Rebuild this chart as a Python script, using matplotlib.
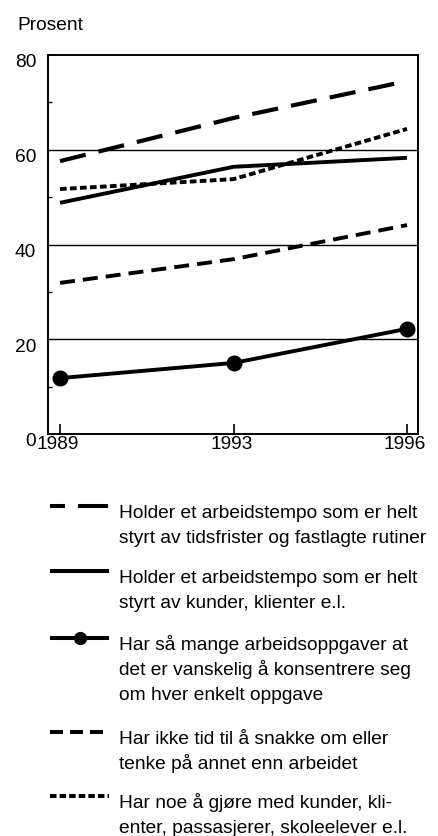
import matplotlib
matplotlib.use("Agg")
import matplotlib.pyplot as plt
from matplotlib import font_manager
from matplotlib.transforms import ScaledTranslation

# ---------------- data ----------------
years = ["1989", "1993", "1996"]
tidsfrister = [57.6, 66.7, 74.5]      # long dash
kunder = [48.8, 56.4, 58.3]           # solid
mange_oppgaver = [11.8, 15.0, 22.2]   # solid with dots
ikke_tid = [31.9, 36.9, 44.1]         # medium dash
kontakt = [51.7, 53.8, 64.4]          # short dash
y_ticks = [0, 20, 40, 60, 80]
y_minor = [10, 30, 50, 70]
labels = [
    "Holder et arbeidstempo som er helt\nstyrt av tidsfrister og fastlagte rutiner",
    "Holder et arbeidstempo som er helt\nstyrt av kunder, klienter e.l.",
    "Har så mange arbeidsoppgaver at\ndet er vanskelig å konsentrere seg\nom hver enkelt oppgave",
    "Har ikke tid til å snakke om eller\ntenke på annet enn arbeidet",
    "Har noe å gjøre med kunder, kli-\nenter, passasjerer, skoleelever e.l.",
]

# ---------------- style ----------------
avail = {f.name for f in font_manager.fontManager.ttflist}
fams = [f for f in ["Liberation Sans Narrow", "Liberation Sans", "DejaVu Sans"] if f in avail]
plt.rcParams["font.family"] = fams
plt.rcParams["lines.scale_dashes"] = False
FS = 16.5 if fams[0] == "Liberation Sans Narrow" else 13.8

series = [tidsfrister, kunder, mange_oppgaver, ikke_tid, kontakt]
styles = [
    dict(ls=(0, (19, 9.5)), lw=3.0),
    dict(ls="-", lw=2.8),
    dict(ls="-", lw=2.8, marker="o", ms=10.5),
    dict(ls=(0, (10.8, 5.8)), lw=2.8),
    dict(ls=(0, (4.8, 2.4)), lw=2.8),
]
legend_styles = [
    dict(ls=(0, (10.8, 9.4, 21.6, 9.4)), lw=2.9),
    dict(ls="-", lw=2.9),
    dict(ls="-", lw=2.9, marker="o", ms=8.5, markevery=[1]),
    dict(ls=(0, (9.4, 5.0)), lw=2.9),
    dict(ls=(0, (4.7, 2.2)), lw=2.9),
]

W, H = 439, 837
fig = plt.figure(figsize=(W / 100, H / 100), dpi=100)
fig.patch.set_facecolor("white")

# main axes (pixel geometry)
L, R, T, B = 48, 418, 56, 435
ax = fig.add_axes([L / W, 1 - B / H, (R - L) / W, (B - T) / H])
x = list(range(len(years)))
for vals, st in zip(series, styles):
    ax.plot(x, vals, color="black", solid_capstyle="butt", dash_capstyle="butt", zorder=3, **st)

ax.set_xlim(-12 / 173.5, 2 + 11 / 173.5)
ax.set_ylim(0, 80)
ax.set_yticks(y_ticks)
ax.set_yticks(y_minor, minor=True)
ax.set_xticks(x)
ax.set_xticklabels(years)
for s in ax.spines.values():
    s.set_linewidth(1.4)
for v in [20, 40, 60]:
    ax.axhline(v, color="black", lw=1.0, zorder=1)
ax.tick_params(axis="y", which="major", length=0, pad=8.6, labelsize=FS)
ax.tick_params(axis="y", which="minor", direction="in", length=3, width=1.0)
ax.tick_params(axis="x", which="major", direction="in", length=7, width=1.2, pad=0.5, labelsize=FS)
ax.tick_params(axis="x", which="minor", length=0)

off_y = ScaledTranslation(0, -5 / 100, fig.dpi_scale_trans)
for lab in ax.get_yticklabels():
    lab.set_transform(lab.get_transform() + off_y)
off_x = ScaledTranslation(-2 / 100, 0, fig.dpi_scale_trans)
for lab in ax.get_xticklabels():
    lab.set_transform(lab.get_transform() + off_x)

fig.text(17 / W, 1 - 30 / H, "Prosent", fontsize=FS, va="baseline", ha="left")

# legend drawn in a pixel-coordinate overlay axes
lax = fig.add_axes([0, 0, 1, 1], zorder=-1)
lax.set_xlim(0, W)
lax.set_ylim(H, 0)
lax.axis("off")
first_baselines = [518, 583, 650, 744, 808]
line_step = 25
for lbl, st, yb in zip(labels, legend_styles, first_baselines):
    yh = yb - 11
    lax.plot([50, 80, 109], [yh, yh, yh], color="black", dash_capstyle="butt", solid_capstyle="butt", **st)
    for i, ln in enumerate(lbl.split("\n")):
        lax.text(119, yb + i * line_step, ln, fontsize=FS, va="baseline", ha="left")

fig.savefig("out.png", dpi=100, facecolor="white")
